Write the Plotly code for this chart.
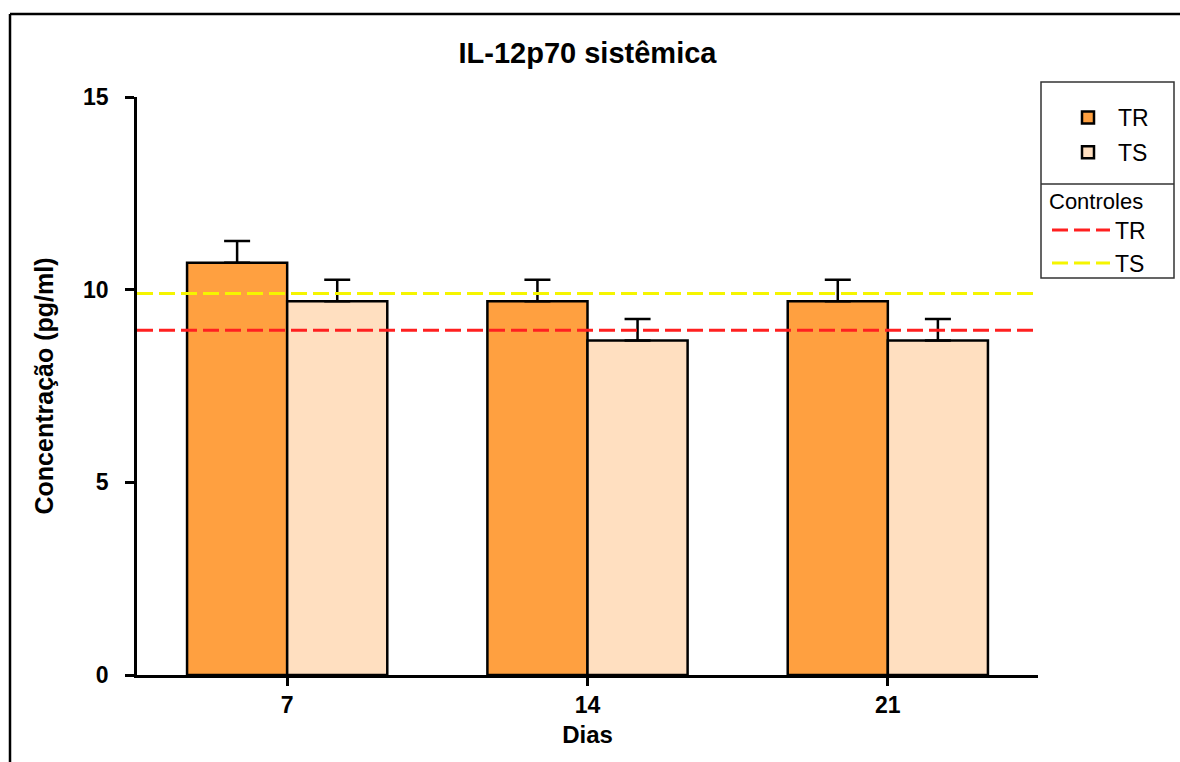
import plotly.graph_objects as go

# Data
dias = ["7", "14", "21"]
tr_vals = [10.7, 9.7, 9.7]
tr_err = [0.56, 0.56, 0.56]
ts_vals = [9.7, 8.68, 8.68]
ts_err = [0.56, 0.56, 0.56]
ctrl_tr = 8.95
ctrl_ts = 9.9

W, H = 1180, 762
L, R, T, B = 137, 142, 97, 87
PW, PH = W - L - R, H - T - B


def px_x(px):
    return (px - L) / PW


def px_y(py):
    return (H - B - py) / PH


FONT = "Liberation Sans, Arial, sans-serif"

fig = go.Figure()
fig.add_trace(go.Bar(
    x=dias, y=tr_vals, name="TR", legend="legend", legendgroup="a",
    marker=dict(color="#FFA040", line=dict(color="black", width=2.5)),
    error_y=dict(type="data", array=tr_err, arrayminus=[0] * 3, symmetric=False,
                 color="black", thickness=2.5, width=13),
))
fig.add_trace(go.Bar(
    x=dias, y=ts_vals, name="TS", legend="legend", legendgroup="b",
    marker=dict(color="#FFDFC0", line=dict(color="black", width=2.5)),
    error_y=dict(type="data", array=ts_err, arrayminus=[0] * 3, symmetric=False,
                 color="black", thickness=2.5, width=13),
))

# Control lines as shapes with legend entries
fig.add_shape(type="line", xref="x domain", yref="y", x0=0, x1=1, y0=ctrl_tr, y1=ctrl_tr,
              line=dict(color="#FF2020", width=3, dash="16px,6px"),
              showlegend=True, legend="legend2", name="TR", legendgroup="c")
fig.add_shape(type="line", xref="x domain", yref="y", x0=0, x1=1, y0=ctrl_ts, y1=ctrl_ts,
              line=dict(color="#F5F500", width=3, dash="16px,6px"),
              showlegend=True, legend="legend2", name="TS", legendgroup="d")

# Outer frame (top and left)
fx0, fy0 = px_x(10), px_y(14)
fig.add_shape(type="line", xref="paper", yref="paper", x0=fx0, x1=px_x(W + 5), y0=fy0, y1=fy0,
              line=dict(color="black", width=2.5))
fig.add_shape(type="line", xref="paper", yref="paper", x0=fx0, x1=fx0, y0=fy0, y1=px_y(H + 5),
              line=dict(color="black", width=2.5))

# Legend boxes
lx0, lx1 = px_x(1041), px_x(1174)
fig.add_shape(type="rect", xref="paper", yref="paper", x0=lx0, x1=lx1, y0=px_y(278), y1=px_y(82),
              line=dict(color="#333333", width=1.5))
fig.add_shape(type="line", xref="paper", yref="paper", x0=lx0, x1=lx1, y0=px_y(184), y1=px_y(184),
              line=dict(color="#333333", width=1.5))

fig.update_layout(
    width=W, height=H,
    margin=dict(l=L, r=R, t=T, b=B, autoexpand=False),
    paper_bgcolor="white", plot_bgcolor="white",
    font=dict(family=FONT, color="black"),
    barmode="group", bargap=1 / 3, bargroupgap=0,
    title=dict(text="<b>IL-12p70 sistêmica</b>", x=0.5, xref="paper", xanchor="center",
               y=1 - 53 / H, yanchor="middle", font=dict(size=29, family=FONT)),
    xaxis=dict(type="category", range=[-0.5, 2.5], showline=True, linecolor="black", linewidth=2.5,
               ticks="outside", ticklen=8, tickwidth=2.5, tickcolor="black",
               tickfont=dict(size=23, family=FONT, weight="bold"),
               title=dict(text="<b>Dias</b>", font=dict(size=24), standoff=9),
               showgrid=False, zeroline=False),
    yaxis=dict(range=[0, 15], tickvals=[0, 5, 10, 15], showline=True, linecolor="black", linewidth=2.5,
               ticks="outside", ticklen=9, tickwidth=2.5, tickcolor="black",
               tickfont=dict(size=23, family=FONT, weight="bold"), ticklabelstandoff=12,
               title=dict(text="<b>Concentração (pg/ml)</b>", font=dict(size=25), standoff=23),
               showgrid=False, zeroline=False),
    legend=dict(x=px_x(1058), y=px_y(96), xanchor="left", yanchor="top",
                bgcolor="rgba(0,0,0,0)", borderwidth=0, font=dict(size=23, family=FONT),
                tracegroupgap=2, itemwidth=50),
    legend2=dict(x=px_x(1047), y=px_y(180), xanchor="left", yanchor="top",
                 bgcolor="rgba(0,0,0,0)", borderwidth=0, font=dict(size=23, family=FONT),
                 title=dict(text="Controles", font=dict(size=22, family=FONT)),
                 tracegroupgap=0, itemwidth=58),
    showlegend=True,
)

fig.write_html("out.html")
